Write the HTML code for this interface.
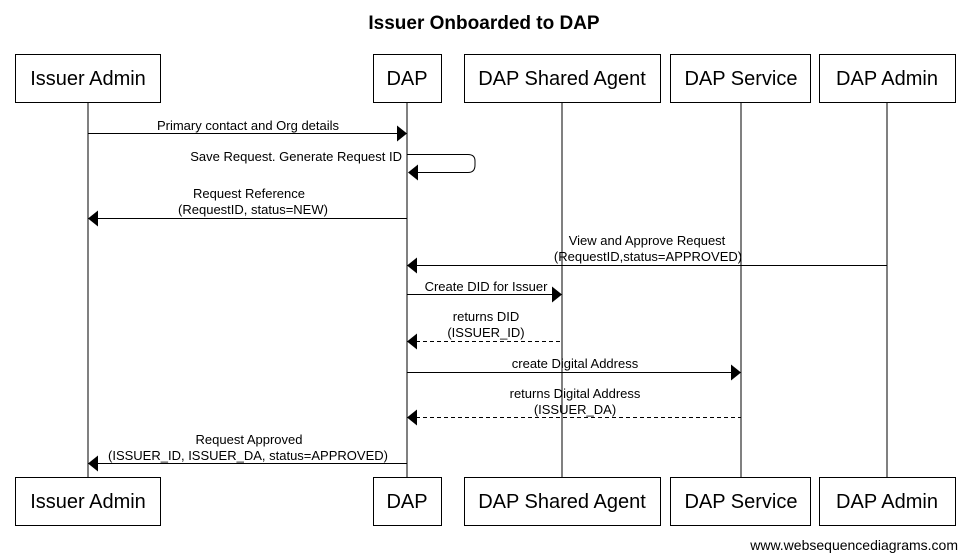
<!DOCTYPE html>
<html><head><meta charset="utf-8"><style>html,body{margin:0;padding:0;background:#fff}svg{display:block}</style></head>
<body>
<svg width="967" height="560" viewBox="0 0 967 560" xmlns="http://www.w3.org/2000/svg" font-family="Liberation Sans, Arial, sans-serif">
<rect width="967" height="560" fill="#fff"/>
<text x="484" y="29" font-size="19" font-weight="bold" text-anchor="middle">Issuer Onboarded to DAP</text>
<g stroke="#000" stroke-width="1" fill="none">
<line x1="88" y1="102" x2="88" y2="478"/>
<line x1="407" y1="102" x2="407" y2="478"/>
<line x1="562" y1="102" x2="562" y2="478"/>
<line x1="741" y1="102" x2="741" y2="478"/>
<line x1="887" y1="102" x2="887" y2="478"/>
<rect x="15.5" y="54.5" width="145" height="48" fill="#fff"/>
<rect x="373.5" y="54.5" width="68" height="48" fill="#fff"/>
<rect x="464.5" y="54.5" width="196" height="48" fill="#fff"/>
<rect x="670.5" y="54.5" width="140" height="48" fill="#fff"/>
<rect x="819.5" y="54.5" width="136" height="48" fill="#fff"/>
<rect x="15.5" y="477.5" width="145" height="48" fill="#fff"/>
<rect x="373.5" y="477.5" width="68" height="48" fill="#fff"/>
<rect x="464.5" y="477.5" width="196" height="48" fill="#fff"/>
<rect x="670.5" y="477.5" width="140" height="48" fill="#fff"/>
<rect x="819.5" y="477.5" width="136" height="48" fill="#fff"/>
<line x1="88" y1="133.5" x2="398" y2="133.5"/>
<path d="M407 154.5 H468 Q475 154.5 475 161 V165 Q475 172.5 468 172.5 H416"/>
<line x1="97" y1="218.5" x2="407" y2="218.5"/>
<line x1="416" y1="265.5" x2="887" y2="265.5"/>
<line x1="407" y1="294.5" x2="553" y2="294.5"/>
<line x1="416" y1="341.5" x2="562" y2="341.5" stroke-dasharray="4,3"/>
<line x1="407" y1="372.5" x2="732" y2="372.5"/>
<line x1="416" y1="417.5" x2="741" y2="417.5" stroke-dasharray="4,3"/>
<line x1="97" y1="463.5" x2="407" y2="463.5"/>
</g>
<g fill="#000">
<polygon points="407,133.5 397,125.5 397,141.5"/>
<polygon points="408,172.5 418,164.5 418,180.5"/>
<polygon points="88,218.5 98,210.5 98,226.5"/>
<polygon points="407,265.5 417,257.5 417,273.5"/>
<polygon points="562,294.5 552,286.5 552,302.5"/>
<polygon points="407,341.5 417,333.5 417,349.5"/>
<polygon points="741,372.5 731,364.5 731,380.5"/>
<polygon points="407,417.5 417,409.5 417,425.5"/>
<polygon points="88,463.5 98,455.5 98,471.5"/>
</g>
<g font-size="20" text-anchor="middle">
<text x="88" y="85">Issuer Admin</text>
<text x="407" y="85">DAP</text>
<text x="562" y="85">DAP Shared Agent</text>
<text x="741" y="85">DAP Service</text>
<text x="887" y="85">DAP Admin</text>
<text x="88" y="508">Issuer Admin</text>
<text x="407" y="508">DAP</text>
<text x="562" y="508">DAP Shared Agent</text>
<text x="741" y="508">DAP Service</text>
<text x="887" y="508">DAP Admin</text>
</g>
<g font-size="13" text-anchor="middle">
<text x="248" y="130">Primary contact and Org details</text>
<text x="402" y="161" text-anchor="end">Save Request. Generate Request ID</text>
<text x="249" y="198">Request Reference</text>
<text x="253" y="214">(RequestID, status=NEW)</text>
<text x="647" y="245">View and Approve Request</text>
<text x="648" y="261">(RequestID,status=APPROVED)</text>
<text x="486" y="291">Create DID for Issuer</text>
<text x="486" y="321">returns DID</text>
<text x="486" y="337">(ISSUER_ID)</text>
<text x="575" y="368">create Digital Address</text>
<text x="575" y="398">returns Digital Address</text>
<text x="575" y="414">(ISSUER_DA)</text>
<text x="249" y="444">Request Approved</text>
<text x="248" y="460">(ISSUER_ID, ISSUER_DA, status=APPROVED)</text>
</g>
<text x="958" y="550" font-size="14" text-anchor="end">www.websequencediagrams.com</text>
</svg>
</body></html>
